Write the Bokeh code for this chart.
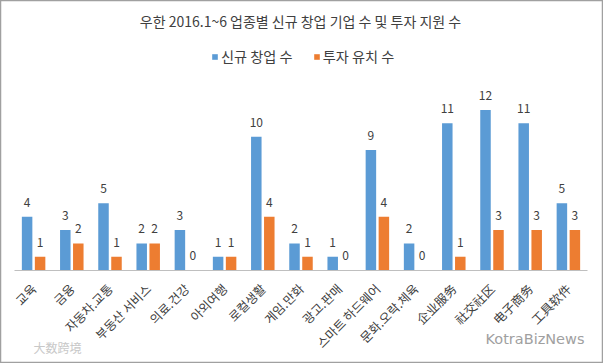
from bokeh.plotting import figure
from bokeh.models import ColumnDataSource, FixedTicker, Legend, LegendItem, Label, Range1d
from bokeh.transform import dodge
from bokeh.core.properties import value
from bokeh.embed import file_html
from bokeh.resources import INLINE

title_text = "우한 2016.1~6 업종별 신규 창업 기업 수 및 투자 지원 수"
categories = ["교육", "금융", "자동차.교통", "부동산 서비스", "의료.건강", "아외여행", "로컬생활",
              "게임.만화", "광고.판매", "스마트 하드웨어", "문화.오락.체육",
              "企业服务", "社交社区", "电子商务", "工具软件"]
new_startups = [4, 3, 5, 2, 3, 1, 10, 2, 1, 9, 2, 11, 12, 11, 5]
investments = [1, 2, 1, 2, 0, 1, 4, 1, 0, 4, 0, 1, 3, 3, 3]
series_names = ["신규 창업 수", "투자 유치 수"]
colors = ["#5B9BD5", "#ED7D31"]

FONT = "Noto Sans CJK KR"
TXT = "#404040"

xs = list(range(1, len(categories) + 1))
src = ColumnDataSource(dict(
    x=xs,
    a=new_startups,
    b=investments,
    a_s=[str(v) for v in new_startups],
    b_s=[str(v) for v in investments],
))

W, H = 603, 363
n = len(categories)
p = figure(width=W, height=H, output_backend="svg", toolbar_location=None,
           x_range=Range1d(0.1335, n + 0.919), y_range=Range1d(-7.0, 20.2),
           y_axis_location=None,
           min_border_left=0, min_border_right=0, min_border_top=0, min_border_bottom=0)
p.outline_line_color = "#A0A0A0"
p.outline_line_width = 1.5
p.xgrid.visible = False
p.ygrid.visible = False
p.background_fill_color = "white"
p.border_fill_color = "white"

off = 0.17
bw = 0.275
r1 = p.vbar(x=dodge("x", -off, range=p.x_range), top="a", bottom=0, width=bw, source=src,
            fill_color=colors[0], line_color=None)
r2 = p.vbar(x=dodge("x", off, range=p.x_range), top="b", bottom=0, width=bw, source=src,
            fill_color=colors[1], line_color=None)

p.text(x=dodge("x", -off, range=p.x_range), y="a", text="a_s", source=src,
       text_align="center", text_baseline="bottom", y_offset=-10,
       text_font=value(FONT), text_font_size="12px", text_color=TXT)
p.text(x=dodge("x", off, range=p.x_range), y="b", text="b_s", source=src,
       text_align="center", text_baseline="bottom", y_offset=-10,
       text_font=value(FONT), text_font_size="12px", text_color=TXT)

ax = p.xaxis[0]
ax.fixed_location = 0
ax.bounds = (0.5, n + 0.5)
ax.ticker = FixedTicker(ticks=xs)
ax.major_label_overrides = {x: c for x, c in zip(xs, categories)}
ax.major_label_orientation = 3.14159265 / 4
ax.major_tick_line_color = None
ax.minor_tick_line_color = None
ax.axis_line_color = "#BFBFBF"
ax.major_label_text_font = FONT
ax.major_label_text_font_size = "12.5px"
ax.major_label_text_color = TXT
ax.major_label_standoff = 10

legend = Legend(items=[LegendItem(label=series_names[0], renderers=[r1]),
                       LegendItem(label=series_names[1], renderers=[r2])],
                orientation="horizontal", location=(211, 297),
                glyph_width=7, glyph_height=7, label_standoff=3, spacing=20,
                padding=0, margin=0, border_line_color=None, background_fill_alpha=0,
                label_text_font=FONT, label_text_font_size="14.2px",
                label_text_color=TXT, label_height=16)
p.add_layout(legend)

p.add_layout(Label(x=300, y=343, x_units="screen", y_units="screen", text=title_text,
                   text_align="center", text_baseline="middle",
                   text_font=FONT, text_font_size="14px", text_color=TXT))
p.add_layout(Label(x=33, y=16, x_units="screen", y_units="screen", text="大数跨境",
                   text_align="left", text_baseline="middle",
                   text_font=FONT, text_font_size="12px", text_color="#C8C8C8"))
p.add_layout(Label(x=485, y=25, x_units="screen", y_units="screen", text="KotraBizNews",
                   text_align="left", text_baseline="middle",
                   text_font="DejaVu Sans", text_font_size="14.5px", text_color="#A0A0A0"))

open("out.html", "w").write(file_html(p, INLINE))
